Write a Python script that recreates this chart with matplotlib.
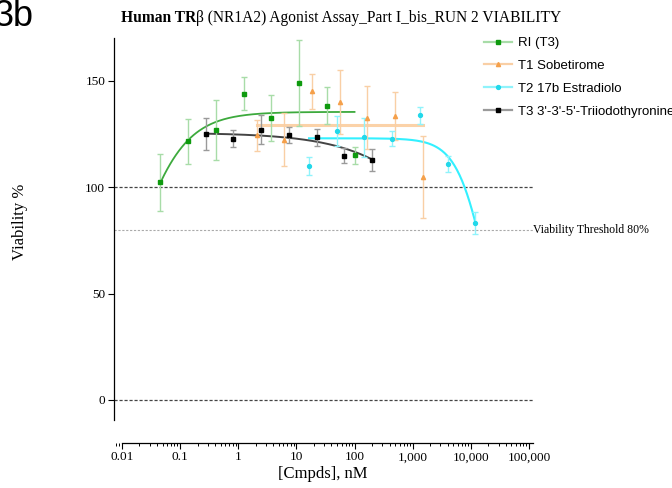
import numpy as np
import matplotlib
matplotlib.use("Agg")
import matplotlib.pyplot as plt
from matplotlib.lines import Line2D
from matplotlib.ticker import LogLocator, NullFormatter

# ---- data ----
ri_conc = [0.0457, 0.137, 0.412, 1.235, 3.70, 11.1, 33.3, 100]
ri_val = [102.2, 121.4, 126.9, 143.9, 132.4, 148.8, 138.2, 114.9]
ri_err = [13.4, 10.5, 14.0, 7.6, 10.6, 20.3, 8.7, 4.0]

t1_conc = [2.06, 6.17, 18.5, 55.6, 167, 500, 1500]
t1_val = [124.3, 122.3, 145.0, 140.1, 132.6, 133.3, 104.8]
t1_err = [7.2, 12.4, 8.2, 15.0, 14.7, 11.2, 19.2]

t2_conc = [16.5, 49.4, 148, 444, 1333, 4000, 12000]
t2_val = [109.9, 126.2, 123.4, 122.8, 133.8, 111.0, 83.2]
t2_err = [4.3, 7.0, 9.2, 3.3, 4.0, 3.7, 5.3]

t3_conc = [0.274, 0.823, 2.47, 7.41, 22.2, 66.7, 200]
t3_val = [124.9, 122.6, 126.9, 124.4, 123.3, 114.8, 112.7]
t3_err = [7.3, 4.0, 6.9, 3.9, 4.0, 3.5, 5.3]

# fitted curves: (bottom, top, EC50/IC50, hill)
ri_fit = (0.0, 135.3, 0.0149, 1.0)      # rising
t1_fit = 129.2                            # flat
t2_fit = (0.0, 122.9, 18584.0, 1.70)    # falling
t3_fit = (0.0, 125.5, 12730.0, 0.53)    # falling

labels = ["RI (T3)", "T1 Sobetirome", "T2 17b Estradiolo", "T3 3'-3'-5'-Triiodothyronine"]


def agonist(x, p):
    b, t, ec, h = p
    return b + (t - b) / (1 + (ec / x) ** h)


def inhib(x, p):
    b, t, ic, h = p
    return b + (t - b) / (1 + (x / ic) ** h)


serif = "Liberation Serif"
sans = "Liberation Sans"

fig = plt.figure(figsize=(6.72, 4.88), dpi=100)
ax = fig.add_axes([113.5 / 672, 45 / 488, 419.5 / 672, 405 / 488])
ax.set_xscale("log")
ax.set_xlim(10 ** -2.146, 10 ** 5.07)
ax.set_ylim(-20.2, 170)

# reference lines
ax.axhline(100, color="#444444", lw=0.9, ls=(0, (2.5, 1.5)), zorder=1)
ax.axhline(0, color="#444444", lw=0.9, ls=(0, (2.5, 1.5)), zorder=1)
ax.axhline(80, color="#aaaaaa", lw=0.8, ls=(0, (2, 1.5)), zorder=1)
ax.text(10 ** 5.07, 80, "Viability Threshold 80%", fontfamily=serif, fontsize=8.5,
        va="center", ha="left", clip_on=False)

# curves
xs = np.logspace(np.log10(ri_conc[0]), np.log10(ri_conc[-1]), 200)
ax.plot(xs, agonist(xs, ri_fit), color="#3daa3d", lw=1.3, zorder=3)
ax.plot([t1_conc[0], t1_conc[-1]], [t1_fit, t1_fit], color="#fbd2a8", lw=2.2, zorder=2)
xs = np.logspace(np.log10(t2_conc[0]), np.log10(t2_conc[-1]), 200)
ax.plot(xs, inhib(xs, t2_fit), color="#33f0ff", lw=1.5, zorder=2)
xs = np.logspace(np.log10(t3_conc[0]), np.log10(t3_conc[-1]), 200)
ax.plot(xs, inhib(xs, t3_fit), color="#444444", lw=1.4, zorder=3)

# points with error bars
series = [
    (ri_conc, ri_val, ri_err, "#0e9a0e", "#a8dca8", "s", 3.2),
    (t1_conc, t1_val, t1_err, "#f5a04a", "#f9cfa5", "^", 3.0),
    (t2_conc, t2_val, t2_err, "#22d8ea", "#8ff3fb", "o", 2.8),
    (t3_conc, t3_val, t3_err, "#000000", "#9a9a9a", "s", 3.2),
]
for c, v, e, mc, ec, m, ms in series:
    ax.errorbar(c, v, yerr=e, fmt="none", ecolor=ec, elinewidth=1.0, capsize=2.5,
                capthick=1.0, zorder=4)
    ax.plot(c, v, ls="none", marker=m, ms=ms, color=mc, zorder=5)

# spines / ticks
for s in ["top", "right"]:
    ax.spines[s].set_visible(False)
ax.spines["left"].set_bounds(-9.4, 170)
ax.spines["bottom"].set_bounds(0.01, 10 ** 5.07)
ax.spines["left"].set_linewidth(0.9)
ax.spines["bottom"].set_linewidth(0.9)
ax.set_yticks([0, 50, 100, 150])
ax.set_xticks([0.01, 0.1, 1, 10, 100, 1000, 10000, 100000])
ax.set_xticklabels(["0.01", "0.1", "1", "10", "100", "1,000", "10,000", "100,000"])
ax.xaxis.set_minor_locator(LogLocator(base=10, subs=np.arange(2, 10), numticks=20))
ax.xaxis.set_minor_formatter(NullFormatter())
ax.tick_params(axis="both", which="major", length=4, width=0.8, labelsize=9.5, pad=2)
ax.tick_params(axis="x", which="minor", length=2.5, width=0.7)
for lab in ax.get_xticklabels() + ax.get_yticklabels():
    lab.set_fontfamily(serif)

ax.set_xlabel("[Cmpds], nM", fontfamily=serif, fontsize=12, labelpad=2)
ax.set_ylabel("Viability %", fontfamily=serif, fontsize=12)
ax.yaxis.set_label_coords((28 - 113.5) / 419.5, (443 - 222) / 405)

# legend
handles = []
for c, v, e, mc, ec, m, ms in series:
    handles.append(Line2D([], [], color=ec, lw=1.6, marker=m, ms=ms, mfc=mc, mec=mc))
fig.legend(handles, labels, loc="upper left", bbox_to_anchor=(484 / 672, 1 - 37 / 488),
           frameon=False, prop={"family": sans, "size": 9.5}, handlelength=2.1,
           handletextpad=0.5, labelspacing=0.8, borderpad=0, borderaxespad=0)

# title: bold part + regular part
fig.canvas.draw()
r = fig.canvas.get_renderer()
t_bold = fig.text(0, 1 - 18 / 488, "Human TR", fontfamily=serif, fontweight="bold",
                  fontsize=11.2, va="center", ha="left")
t_rest = fig.text(0, 1 - 18 / 488, "\u03b2 (NR1A2) Agonist Assay_Part I_bis_RUN 2 VIABILITY",
                  fontfamily=serif, fontsize=11.2, va="center", ha="left")
wb = t_bold.get_window_extent(r).width
wr = t_rest.get_window_extent(r).width
x0 = 341.5 - (wb + wr) / 2
t_bold.set_x(x0 / 672)
t_rest.set_x((x0 + wb) / 672)

fig.text(-6 / 672, 1 - 16 / 488, "3b", fontfamily=sans, fontsize=26, va="center", ha="left")

fig.savefig("out.png", dpi=100)
